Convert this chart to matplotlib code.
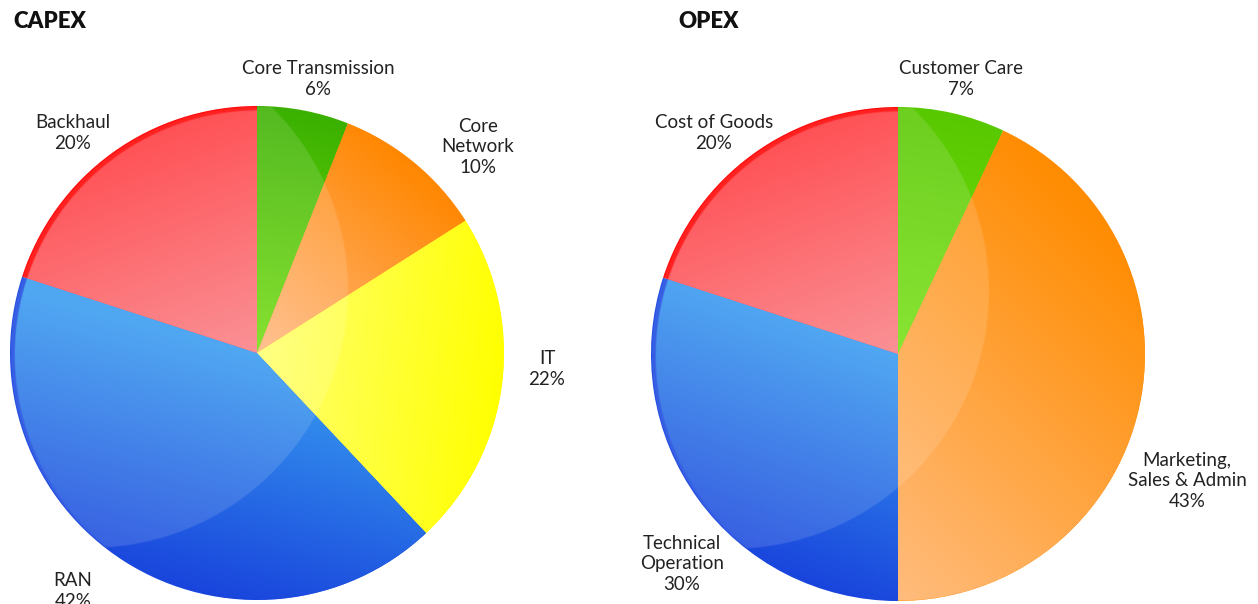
import matplotlib
matplotlib.use("Agg")
import matplotlib.pyplot as plt
import numpy as np

plt.rcParams['font.family'] = ['Lato', 'DejaVu Sans']

# Data
capex_labels = ["Core Transmission", "Core\nNetwork", "IT", "RAN", "Backhaul"]
capex_values = [6, 10, 22, 42, 20]
opex_labels = ["Customer Care", "Marketing,\nSales & Admin", "Technical\nOperation", "Cost of Goods"]
opex_values = [7, 43, 30, 20]

# Layout (pixels)
W, H = 1258, 604
R = 247
capex_center = (257, 353)
opex_center = (898, 354)
capex_label_pos = [(318, 79), (478, 147), (547, 369), (73, 591), (73, 133)]
opex_label_pos = [(961, 79), (1187, 481), (682, 564), (714, 133)]

# Styles: base (rim) colour, then gradient dark / light, direction (deg), offset, span
capex_style = [
    ('#3ab000', (58, 176, 0), (118, 222, 18), 80, 0.0, 1.0),
    ('#ff8800', (255, 135, 0), (255, 185, 130), 50, 0.0, 1.0),
    ('#ffff00', (255, 255, 0), (255, 255, 115), -5, 0.0, 1.0),
    ('#1a48e0', (25, 68, 220), (55, 155, 240), 255, 0.0, 1.0),
    ('#ff0000', (255, 55, 60), (250, 130, 135), 110, 0.0, 1.0),
]
opex_style = [
    ('#58c800', (88, 200, 0), (120, 225, 20), 80, 0.0, 1.0),
    ('#ff8c00', (255, 140, 0), (255, 188, 125), 45, -0.7, 1.7),
    ('#1a48e0', (25, 68, 220), (55, 155, 240), 250, 0.0, 1.0),
    ('#ff0000', (255, 55, 60), (250, 130, 135), 110, 0.0, 1.0),
]

fig = plt.figure(figsize=(W / 100, H / 100), dpi=100)

n = 700
lim = 1.02
g = np.linspace(-lim, lim, n)
X, Y = np.meshgrid(g, g)
edge = 0.005


def smooth(v):
    return np.clip(v / edge + 0.5, 0, 1)


def draw_pie(center, values, style):
    cx, cy = center
    ax = fig.add_axes([0, 0, 1, 1])
    wedges, _ = ax.pie(values, colors=[s[0] for s in style], startangle=90,
                       counterclock=False, radius=1,
                       wedgeprops=dict(linewidth=0))
    # inner disc slightly offset, leaves a darker rim on the upper left
    disc = smooth(0.992 - np.hypot(X - 0.01, Y + 0.008))
    for w, (base, dark, light, ang, a, s) in zip(wedges, style):
        d = np.radians(ang)
        t = np.clip((X * np.cos(d) + Y * np.sin(d) - a) / s, 0, 1)[..., None]
        rgb = (np.array(light) * (1 - t) + np.array(dark) * t) / 255
        img = np.dstack([rgb, disc])
        im = ax.imshow(img, extent=(-lim, lim, -lim, lim), origin='lower',
                       interpolation='bilinear', zorder=2)
        im.set_clip_path(w)
    # glossy highlight circle
    hl = 0.13 * smooth(1.045 - np.hypot(X + 0.676, Y - 0.255)) * smooth(0.998 - np.hypot(X, Y))
    white = np.ones((n, n, 4))
    white[..., 3] = hl
    ax.imshow(white, extent=(-lim, lim, -lim, lim), origin='lower',
              interpolation='bilinear', zorder=3)
    ax.set_xlim(-cx / R, (W - cx) / R)
    ax.set_ylim(-(H - cy) / R, cy / R)
    ax.set_aspect('auto')
    ax.axis('off')


draw_pie(capex_center, capex_values, capex_style)
draw_pie(opex_center, opex_values, opex_style)


def label(x, y, s, **kw):
    fig.text(x / W, 1 - y / H, s, ha='center', va='center', multialignment='center',
             fontsize=13.5, color='#222222', linespacing=1.22, **kw)


for name, v, (x, y) in zip(capex_labels, capex_values, capex_label_pos):
    label(x, y, f"{name}\n{v}%")
for name, v, (x, y) in zip(opex_labels, opex_values, opex_label_pos):
    label(x, y, f"{name}\n{v}%")

fig.text(13 / W, 1 - 22 / H, "CAPEX", ha='left', va='center', fontsize=16,
         fontweight='heavy', color='#111111')
fig.text(678 / W, 1 - 22 / H, "OPEX", ha='left', va='center', fontsize=16,
         fontweight='heavy', color='#111111')

fig.savefig("out.png", dpi=100, facecolor='white')
